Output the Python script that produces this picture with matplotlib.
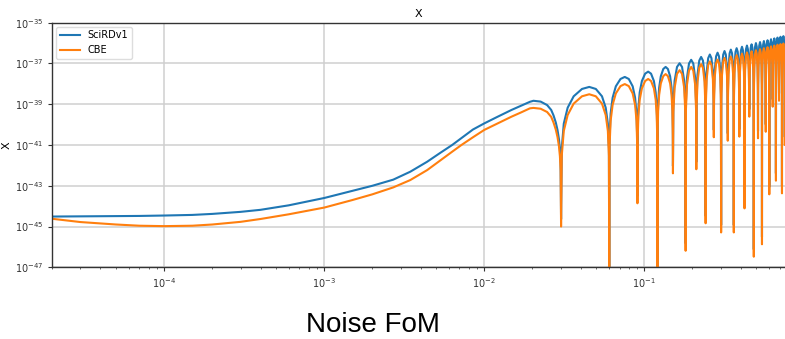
import numpy as np
import matplotlib
matplotlib.use("Agg")
import matplotlib.pyplot as plt
from matplotlib.ticker import LogLocator, NullLocator, FixedLocator

# ---------------- data (log10 of the plotted quantity) ----------------
# smooth low-frequency part up to the first null
freq_smooth = [2.0e-5, 3.0e-5, 5.0e-5, 7.0e-5, 1.0e-4, 1.5e-4, 2.0e-4, 3.0e-4, 4.0e-4,
               6.0e-4, 1.0e-3, 1.5e-3, 2.0e-3, 2.7e-3, 3.45e-3, 4.4e-3, 5.3e-3, 6.3e-3,
               7.2e-3, 8.5e-3, 1.0e-2, 1.2e-2, 1.48e-2, 1.7e-2, 1.93e-2, 2.03e-2, 2.25e-2,
               2.47e-2, 2.62e-2, 2.71e-2, 2.80e-2, 2.87e-2, 2.93e-2, 2.97e-2, 3.00e-2]
blue_smooth = [-44.51, -44.50, -44.49, -44.48, -44.46, -44.43, -44.38, -44.28, -44.18,
               -43.96, -43.60, -43.25, -43.00, -42.70, -42.31, -41.82, -41.39, -41.00,
               -40.66, -40.24, -39.94, -39.63, -39.28, -39.07, -38.88, -38.83, -38.87,
               -39.04, -39.28, -39.55, -39.90, -40.27, -40.72, -41.20, -41.90]
orange_smooth = [-44.62, -44.78, -44.90, -44.96, -44.98, -44.96, -44.90, -44.77, -44.63,
                 -44.40, -44.07, -43.70, -43.42, -43.08, -42.72, -42.23, -41.76, -41.33,
                 -41.00, -40.62, -40.26, -39.96, -39.61, -39.40, -39.20, -39.18, -39.22,
                 -39.38, -39.62, -39.90, -40.25, -40.62, -41.07, -41.55, -42.25]

# frequencies of the nulls and their depths
null_freq = [0.0302, 0.0604, 0.0906, 0.1208, 0.1510, 0.1812, 0.2114, 0.2416, 0.2718,
             0.3020, 0.3322, 0.3624, 0.3926, 0.4228, 0.4530, 0.4832, 0.5134, 0.5436,
             0.5738, 0.6040, 0.6342, 0.6644, 0.6946, 0.7248, 0.7550]
blue_null = [-44.64, -47.60, -43.50, -47.60, -42.03, -45.83, -41.83, -44.48, -40.26,
             -44.93, -40.43, -44.93, -40.23, -43.75, -39.25, -46.12, -40.31, -45.51,
             -39.99, -43.06, -38.76, -42.39, -38.47, -43.01, -40.60]
orange_null = [-45.00, -48.00, -43.86, -48.00, -42.39, -46.19, -42.19, -44.84, -40.62,
               -45.29, -40.79, -45.29, -40.59, -44.11, -39.61, -46.48, -40.67, -45.87,
               -40.35, -43.42, -39.12, -42.75, -38.83, -43.37, -41.00]

# points inside each lobe (between consecutive nulls)
freq_lobes = [
    [0.0305, 0.0314, 0.0332, 0.0362, 0.0408, 0.0453, 0.0498, 0.0544, 0.0574, 0.0592, 0.0601],
    [0.0607, 0.0616, 0.0634, 0.0664, 0.0710, 0.0755, 0.0800, 0.0846, 0.0876, 0.0894, 0.0903],
    [0.0909, 0.0918, 0.0936, 0.0966, 0.1012, 0.1057, 0.1102, 0.1148, 0.1178, 0.1196, 0.1205],
    [0.1211, 0.1220, 0.1238, 0.1268, 0.1314, 0.1359, 0.1404, 0.1450, 0.1480, 0.1498, 0.1507],
    [0.1519, 0.1546, 0.1601, 0.1661, 0.1721, 0.1776, 0.1803],
    [0.1821, 0.1848, 0.1903, 0.1963, 0.2023, 0.2078, 0.2105],
    [0.2123, 0.2150, 0.2205, 0.2265, 0.2325, 0.2380, 0.2407],
    [0.2425, 0.2452, 0.2507, 0.2567, 0.2627, 0.2682, 0.2709],
    [0.2727, 0.2754, 0.2809, 0.2869, 0.2929, 0.2984, 0.3011],
    [0.3029, 0.3056, 0.3111, 0.3171, 0.3231, 0.3286, 0.3313],
    [0.3331, 0.3358, 0.3413, 0.3473, 0.3533, 0.3588, 0.3615],
    [0.3633, 0.3660, 0.3715, 0.3775, 0.3835, 0.3890, 0.3917],
    [0.3935, 0.3962, 0.4017, 0.4077, 0.4137, 0.4192, 0.4219],
    [0.4237, 0.4264, 0.4319, 0.4379, 0.4439, 0.4494, 0.4521],
    [0.4539, 0.4566, 0.4621, 0.4681, 0.4741, 0.4796, 0.4823],
    [0.4841, 0.4868, 0.4923, 0.4983, 0.5043, 0.5098, 0.5125],
    [0.5143, 0.5170, 0.5225, 0.5285, 0.5345, 0.5400, 0.5427],
    [0.5445, 0.5472, 0.5527, 0.5587, 0.5647, 0.5702, 0.5729],
    [0.5747, 0.5774, 0.5829, 0.5889, 0.5949, 0.6004, 0.6031],
    [0.6049, 0.6076, 0.6131, 0.6191, 0.6251, 0.6306, 0.6333],
    [0.6351, 0.6378, 0.6433, 0.6493, 0.6553, 0.6608, 0.6635],
    [0.6653, 0.6680, 0.6735, 0.6795, 0.6855, 0.6910, 0.6937],
    [0.6955, 0.6982, 0.7037, 0.7097, 0.7157, 0.7212, 0.7239],
    [0.7257, 0.7284, 0.7339, 0.7399, 0.7459, 0.7514, 0.7541],
    [0.7559, 0.7586],
]
blue_lobes = [
    [-41.16, -39.95, -39.17, -38.61, -38.25, -38.15, -38.25, -38.61, -39.17, -39.95, -41.16],
    [-40.67, -39.46, -38.68, -38.12, -37.76, -37.66, -37.76, -38.12, -38.68, -39.46, -40.67],
    [-40.41, -39.20, -38.42, -37.86, -37.50, -37.40, -37.50, -37.86, -38.42, -39.20, -40.41],
    [-40.18, -38.97, -38.19, -37.63, -37.27, -37.17, -37.27, -37.63, -38.19, -38.97, -40.18],
    [-39.04, -37.86, -37.17, -36.99, -37.17, -37.86, -39.04],
    [-38.87, -37.69, -37.00, -36.82, -37.00, -37.69, -38.87],
    [-38.73, -37.55, -36.86, -36.68, -36.86, -37.55, -38.73],
    [-38.61, -37.43, -36.74, -36.56, -36.74, -37.43, -38.61],
    [-38.52, -37.34, -36.65, -36.47, -36.65, -37.34, -38.52],
    [-38.44, -37.26, -36.57, -36.39, -36.57, -37.26, -38.44],
    [-38.37, -37.19, -36.50, -36.32, -36.50, -37.19, -38.37],
    [-38.30, -37.12, -36.43, -36.25, -36.43, -37.12, -38.30],
    [-38.23, -37.05, -36.36, -36.18, -36.36, -37.05, -38.23],
    [-38.17, -36.99, -36.30, -36.12, -36.30, -36.99, -38.17],
    [-38.11, -36.93, -36.24, -36.06, -36.24, -36.93, -38.11],
    [-38.05, -36.87, -36.18, -36.00, -36.18, -36.87, -38.05],
    [-38.00, -36.82, -36.13, -35.95, -36.13, -36.82, -38.00],
    [-37.95, -36.77, -36.08, -35.90, -36.08, -36.77, -37.95],
    [-37.91, -36.73, -36.04, -35.86, -36.04, -36.73, -37.91],
    [-37.86, -36.68, -35.99, -35.81, -35.99, -36.68, -37.86],
    [-37.82, -36.64, -35.95, -35.77, -35.95, -36.64, -37.82],
    [-37.78, -36.60, -35.91, -35.73, -35.91, -36.60, -37.78],
    [-37.74, -36.56, -35.87, -35.69, -35.87, -36.56, -37.74],
    [-37.71, -36.53, -35.84, -35.66, -35.84, -36.53, -37.71],
    [-37.68, -36.50],
]
orange_lobes = [
    [-41.52, -40.31, -39.53, -38.97, -38.61, -38.51, -38.61, -38.97, -39.53, -40.31, -41.52],
    [-41.02, -39.81, -39.03, -38.47, -38.11, -38.01, -38.11, -38.47, -39.03, -39.81, -41.02],
    [-40.77, -39.56, -38.78, -38.22, -37.86, -37.76, -37.86, -38.22, -38.78, -39.56, -40.77],
    [-40.53, -39.32, -38.54, -37.98, -37.62, -37.52, -37.62, -37.98, -38.54, -39.32, -40.53],
    [-39.38, -38.20, -37.51, -37.33, -37.51, -38.20, -39.38],
    [-39.22, -38.04, -37.35, -37.17, -37.35, -38.04, -39.22],
    [-39.08, -37.90, -37.21, -37.03, -37.21, -37.90, -39.08],
    [-38.95, -37.77, -37.08, -36.90, -37.08, -37.77, -38.95],
    [-38.86, -37.68, -36.99, -36.81, -36.99, -37.68, -38.86],
    [-38.78, -37.60, -36.91, -36.73, -36.91, -37.60, -38.78],
    [-38.71, -37.53, -36.84, -36.66, -36.84, -37.53, -38.71],
    [-38.64, -37.46, -36.77, -36.59, -36.77, -37.46, -38.64],
    [-38.57, -37.39, -36.70, -36.52, -36.70, -37.39, -38.57],
    [-38.51, -37.33, -36.64, -36.46, -36.64, -37.33, -38.51],
    [-38.45, -37.27, -36.58, -36.40, -36.58, -37.27, -38.45],
    [-38.40, -37.22, -36.53, -36.35, -36.53, -37.22, -38.40],
    [-38.35, -37.17, -36.48, -36.30, -36.48, -37.17, -38.35],
    [-38.30, -37.12, -36.43, -36.25, -36.43, -37.12, -38.30],
    [-38.25, -37.07, -36.38, -36.20, -36.38, -37.07, -38.25],
    [-38.21, -37.03, -36.34, -36.16, -36.34, -37.03, -38.21],
    [-38.17, -36.99, -36.30, -36.12, -36.30, -36.99, -38.17],
    [-38.13, -36.95, -36.26, -36.08, -36.26, -36.95, -38.13],
    [-38.10, -36.92, -36.23, -36.05, -36.23, -36.92, -38.10],
    [-38.07, -36.89, -36.20, -36.02, -36.20, -36.89, -38.07],
    [-38.04, -36.86],
]

y_tick_exponents = [-47, -45, -43, -41, -39, -37, -35]
series_labels = ["SciRDv1", "CBE"]
title_text = "X"
ylabel_text = "X"
caption_text = "Noise FoM"


def assemble(smooth_f, smooth_v, nf, nv, lf, lv):
    f = list(smooth_f)
    v = list(smooth_v)
    for i in range(len(nf)):
        f.append(nf[i]); v.append(nv[i])
        if i < len(lf):
            f.extend(lf[i]); v.extend(lv[i])
    return np.array(f), 10.0 ** np.array(v)


fb, yb = assemble(freq_smooth, blue_smooth, null_freq, blue_null, freq_lobes, blue_lobes)
fo, yo = assemble(freq_smooth, orange_smooth, null_freq, orange_null, freq_lobes, orange_lobes)

# ---------------- figure ----------------
fig = plt.figure(figsize=(7.85, 3.39), dpi=100)
ax = fig.add_axes([0.0666, 0.2115, 0.9334, 0.7215])

ax.plot(fb, yb, color="#1f77b4", lw=1.5, label=series_labels[0])
ax.plot(fo, yo, color="#ff7f0e", lw=1.5, label=series_labels[1])

ax.set_xscale("log")
ax.set_yscale("log")
ax.set_xlim(2.0e-5, 0.757)
ax.set_ylim(1e-47, 1e-35)

ax.yaxis.set_major_locator(FixedLocator([10.0 ** e for e in y_tick_exponents]))
ax.yaxis.set_minor_locator(NullLocator())
ax.xaxis.set_major_locator(LogLocator(base=10.0))
ax.xaxis.set_minor_locator(LogLocator(base=10.0, subs=np.arange(2, 10)))

ax.grid(True, which="major", color="#cfcfcf", lw=1.1)
ax.set_axisbelow(True)

for s in ["left", "top", "bottom"]:
    ax.spines[s].set_color("#333333")
    ax.spines[s].set_linewidth(1.0)
ax.spines["right"].set_visible(False)

ax.tick_params(axis="both", which="major", labelsize=7, length=3, width=0.8, colors="#333333")
ax.tick_params(axis="both", which="minor", length=1.5, width=0.6, colors="#555555")

ax.set_title(title_text, fontsize=8, pad=4)
ax.set_ylabel(ylabel_text, fontsize=8, labelpad=2)

ax.legend(loc="upper left", fontsize=7, frameon=True, framealpha=1.0,
          edgecolor="#dddddd", borderaxespad=0.4, handlelength=2.0)

fig.text(0.475, 0.003, caption_text, ha="center", va="bottom",
         fontsize=20, family=["Liberation Sans", "DejaVu Sans"])

fig.savefig("out.png", dpi=100)
